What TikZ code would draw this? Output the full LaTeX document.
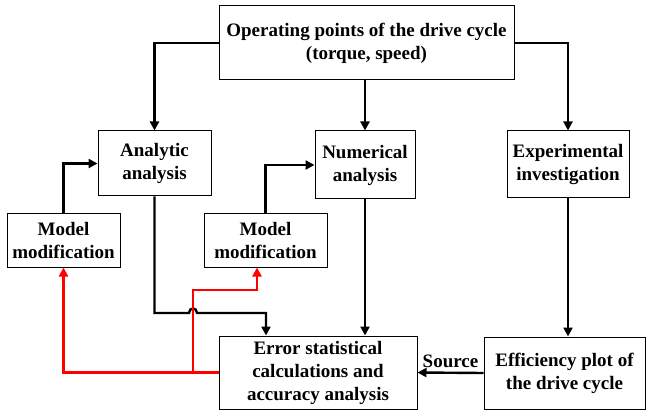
\documentclass[tikz,border=0pt]{standalone}
\usepackage{fontspec}
\setmainfont{Liberation Serif}
\usetikzlibrary{arrows.meta}

\begin{document}
\begin{tikzpicture}[x=0.5pt, y=-0.5pt, >={Triangle[length=4.5pt,width=4.5pt]},
  font=\fontsize{9.5}{11.5}\selectfont\bfseries,
  b/.style={draw, line width=0.5pt, align=center, inner sep=1pt},
  flow/.style={->, line width=1.2pt},
  fb/.style={->, line width=1.2pt, red}]
  \useasboundingbox (0,0) rectangle (647,411);
  \node[b, minimum width=147.5pt, minimum height=37pt] (ops) at (366.5,43) {Operating points of the drive cycle\\(torque, speed)};
  \node[b, minimum width=56.5pt, minimum height=32.5pt] (ana) at (154.5,163.5) {Analytic\\analysis};
  \node[b, minimum width=50pt, minimum height=34pt]     (num) at (365,165)     {Numerical\\analysis};
  \node[b, minimum width=61pt, minimum height=33.5pt]   (exp) at (568,164.5)   {Experimental\\investigation};
  \node[b, minimum width=56.5pt, minimum height=26.5pt] (modl) at (63.5,240.5) {Model\\modification};
  \node[b, minimum width=61.5pt, minimum height=26.5pt] (modm) at (265.5,240.5) {Model\\modification};
  \node[b, minimum width=99pt, minimum height=36.5pt]   (err) at (318,372.5)   {Error statistical\\calculations and\\accuracy analysis};
  \node[b, minimum width=80.5pt, minimum height=36pt]   (eff) at (564.5,373)   {Efficiency plot of\\the drive cycle};
  \draw[flow] (ops.west) -| (ana.north);
  \draw[flow] (ops.south -| num.north) -- (num.north);
  \draw[flow] (ops.east) -| (exp.north);
  \draw[flow] (modl.north) |- (ana.west);
  \draw[flow] (modm.north) |- (num.west);
  \draw[flow] (num.south) -- (err.north -| num.south);
  \draw[flow] (exp.south) -- (eff.north -| exp.south);
  \draw[flow] (eff.west) -- (err.east) node[midway, above=2pt, inner sep=0pt] {Source};
  % jump over the red line
  \coordinate (br) at (193,373);
  \coordinate (mm) at (257,290);
  \coordinate (bend) at (266,313);
  \draw[flow] (ana.south) |- (189,313) .. controls (189,307) and (197,307) .. (197,313)
    -- (bend) -- (err.north -| bend);
  \draw[fb] (err.west) -| (modl.south);
  \draw[fb] (br) |- (mm) -- (mm |- modm.south);
\end{tikzpicture}
\end{document}
